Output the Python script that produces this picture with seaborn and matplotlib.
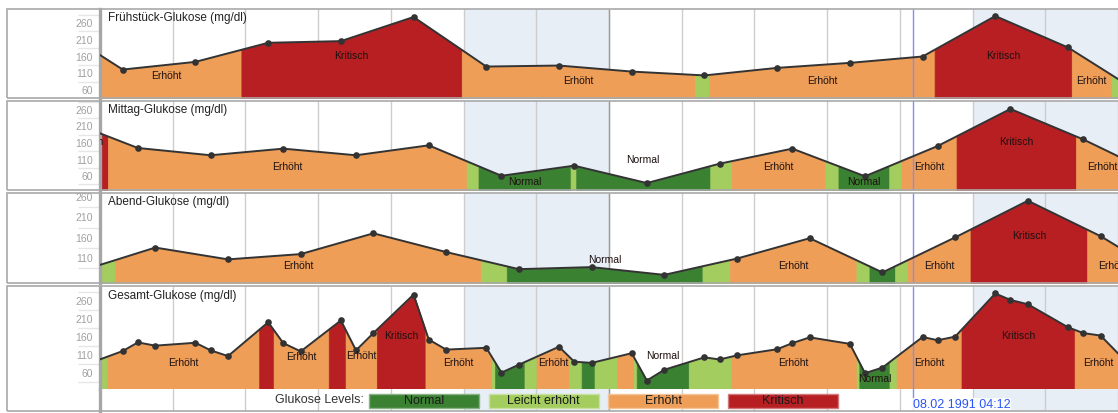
import numpy as np
import pandas as pd
import matplotlib
matplotlib.use('Agg')
import matplotlib.pyplot as plt
import matplotlib.dates as mdates
import matplotlib.transforms as mtransforms
from matplotlib.patches import Rectangle
from matplotlib.colors import to_rgb
import seaborn as sns

sns.set_theme(style='white')
plt.rcParams['font.family'] = ['Liberation Sans', 'DejaVu Sans']

# ---------------- Daten ----------------
# ein Tag vor und nach dem sichtbaren Zeitraum, damit die Linie bis an den Rand läuft
tage = pd.date_range('1991-01-27', '1991-02-11', freq='D')
fruehstueck = [260, 121, 144, 201, 206, 278, 130, 133, 115, 103.5, 126, 141, 160, 281, 187, 50]
mittag = [230, 145, 123, 143, 123, 153, 61, 91.5, 39, 97.5, 143, 59.5, 151, 263, 171, 65]
abend = [80, 136, 107, 120, 171, 125, 83, 88, 69, 109, 159, 75, 161, 251, 164, 56]
uhrzeit = {'Frühstück': '07:30', 'Mittag': '12:30', 'Abend': '18:15'}

stufen = ['Normal', 'Leicht erhöht', 'Erhöht', 'Kritisch']
grenzen = [90, 105, 180]
farben = ['#3b8132', '#a3cd5f', '#ee9e57', '#b71f23']

start, ende = pd.Timestamp('1991-01-28'), pd.Timestamp('1991-02-11')
cursor = pd.Timestamp('1991-02-08 04:12')
ytick_basis = [60, 110, 160, 210, 260]

W, H = 1118, 413


def serie(name, werte):
    zeiten = tage + pd.Timedelta(uhrzeit[name] + ':00')
    return pd.DataFrame({'Zeit': zeiten, 'Glukose': werte})


df_f = serie('Frühstück', fruehstueck)
df_m = serie('Mittag', mittag)
df_a = serie('Abend', abend)
df_g = pd.concat([df_f, df_m, df_a]).sort_values('Zeit').reset_index(drop=True)

# Titel, Daten, y-Bereich, oberer Rand (px), Höhe (px)
panels = [
    ('Frühstück-Glukose (mg/dl)', df_f, (36, 302), 9, 89),
    ('Mittag-Glukose (mg/dl)', df_m, (18, 287), 101, 89),
    ('Abend-Glukose (mg/dl)', df_a, (49, 270), 193, 90),
    ('Gesamt-Glukose (mg/dl)', df_g, (15.5, 299), 287, 102),
]


def bereiche(x, y):
    """Linie an den Grenzwerten aufteilen und zusammenhängende Stufen-Bereiche liefern"""
    px, py = [x[0]], [y[0]]
    for i in range(len(x) - 1):
        x0, x1, y0, y1 = x[i], x[i + 1], y[i], y[i + 1]
        cuts = sorted([g for g in grenzen if min(y0, y1) < g < max(y0, y1)], reverse=y1 < y0)
        for g in cuts:
            px.append(x0 + (g - y0) / (y1 - y0) * (x1 - x0))
            py.append(g)
        px.append(x1)
        py.append(y1)
    px, py = np.array(px), np.array(py)
    lvl = np.digitize((py[:-1] + py[1:]) / 2, grenzen)
    out = []
    s = 0
    for i in range(1, len(lvl) + 1):
        if i == len(lvl) or lvl[i] != lvl[s]:
            out.append((lvl[s], px[s:i + 1], py[s:i + 1]))
            s = i
    return out


def hintergrund(ax):
    for d in pd.date_range(start, ende - pd.Timedelta(days=1), freq='D'):
        if d.weekday() >= 5:
            ax.axvspan(d, d + pd.Timedelta(days=1), color='#e7eef6', lw=0, zorder=0.2)
        if d.weekday() == 0:
            ax.axvline(d, color='#9c9c9c', lw=1, zorder=0.6)
    ax.axvline(cursor, color='#8a8af0', lw=1, zorder=3)
    ax.set_xlim(start, ende)
    ax.xaxis.set_major_locator(mdates.DayLocator())
    ax.grid(axis='x', color='#cdcdcd', lw=1)
    ax.grid(axis='y', visible=False)
    ax.set_axisbelow(True)
    ax.tick_params(axis='x', length=0, labelbottom=False)
    for s in ['top', 'right', 'bottom']:
        ax.spines[s].set_visible(False)
    ax.spines['left'].set_color('#a6a6a6')
    ax.spines['left'].set_linewidth(2.4)


fig = plt.figure(figsize=(W / 100, H / 100), dpi=100)
renderer = fig.canvas.get_renderer()

# Rahmen der einzelnen Diagramme
for top, bottom in [(9, 98), (101, 190), (193, 283), (286, 411)]:
    fig.add_artist(Rectangle((7 / W, 1 - bottom / H), (W + 10) / W, (bottom - top) / H,
                             transform=fig.transFigure, fill=False, edgecolor='#a9a9a9', lw=1.2))

for titel, df, ylim, top, hoehe in panels:
    ax = fig.add_axes([100 / W, 1 - (top + hoehe) / H, (W - 100) / W, hoehe / H])
    hintergrund(ax)

    sns.lineplot(data=df, x='Zeit', y='Glukose', ax=ax, color='#333333', lw=1.4,
                 marker='o', markersize=4.8, markeredgewidth=0, zorder=4)
    ax.set(xlabel='', ylabel='')
    ax.set_xlim(start, ende)
    ax.set_ylim(*ylim)

    xnum = mdates.date2num(df['Zeit'])
    regionen = bereiche(xnum, df['Glukose'].to_numpy(dtype=float))
    for lvl, xs, ys in regionen:
        ax.fill_between(xs, 0, ys, color=farben[lvl], edgecolor=farben[lvl], lw=0.5, zorder=2)

    # Beschriftung der Bereiche (nur wenn der Text in den Bereich passt)
    ax_box = ax.get_window_extent(renderer)
    for lvl, xs, ys in regionen:
        if lvl == 1:
            continue
        xc = (xs[0] + xs[-1]) / 2
        breite = ax.transData.transform((xs[-1], 0))[0] - ax.transData.transform((xs[0], 0))[0]
        y_min_px = ax.transData.transform((xc, ys.min()))[1]
        if y_min_px - 11 >= ax_box.y0:
            yv, dy = ys.min(), -6
        else:
            yv, dy = ys.max(), 6
        tr = mtransforms.offset_copy(ax.transData, fig=fig, x=0, y=dy, units='dots')
        t = ax.text(xc, yv, stufen[lvl], transform=tr, ha='center', va='center',
                    fontsize=7.5, color='#1e1010', zorder=5, clip_on=True)
        bb = t.get_window_extent(renderer)
        if bb.width * 0.89 > breite or bb.x1 <= ax_box.x0 or bb.x0 >= ax_box.x1:
            t.remove()

    ax.set_yticks([v for v in ytick_basis if ylim[0] + 15 <= v <= ylim[1]])
    ax.set_yticks([v - 25 for v in ytick_basis + [310] if ylim[0] < v - 25 < ylim[1]], minor=True)
    ax.tick_params(axis='y', which='major', length=0, pad=5, labelsize=7.5, labelcolor='#a0a0a0')
    ax.tick_params(axis='y', which='minor', left=True, length=16, width=1, color='#e6e6e6',
                   direction='out')
    ax.annotate(titel, xy=(0, 1), xycoords='axes fraction', xytext=(8, -9),
                textcoords='offset pixels', ha='left', va='center', fontsize=8.5, color='#222222')

# Streifen unter dem Gesamt-Diagramm mit Legende und Zeitmarke
ax_s = fig.add_axes([100 / W, 1 - 411 / H, (W - 100) / W, 22 / H])
hintergrund(ax_s)
ax_s.set_yticks([])
ax_s.set_ylim(0, 1)
ax_s.text(cursor, 0.27, cursor.strftime('%d.%m %Y %H:%M'), ha='left', va='center',
          fontsize=9, color='#2a55f5', zorder=6,
          bbox=dict(boxstyle='square,pad=0.1', facecolor='white', edgecolor='none', alpha=0.85))

fig.text(364 / W, 1 - 400 / H, 'Glukose Levels:', ha='right', va='center', fontsize=9, color='#333333')
for i, (name, farbe) in enumerate(zip(stufen, farben)):
    x0 = 369 + i * 119.5
    kante = tuple(0.6 * np.array(to_rgb(farbe)) + 0.4)
    fig.add_artist(Rectangle((x0 / W, 1 - 407.5 / H), 110 / W, 14 / H, transform=fig.transFigure,
                             facecolor=farbe, edgecolor=kante, lw=1, zorder=5))
    fig.text((x0 + 55) / W, 1 - 400.5 / H, name, ha='center', va='center', fontsize=9,
             color='#1a1a1a', zorder=6)

fig.savefig('out.png', dpi=100)
